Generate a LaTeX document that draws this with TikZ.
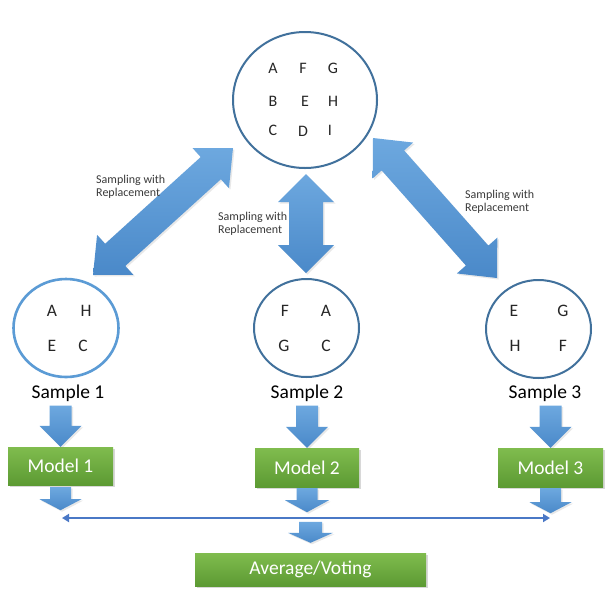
\documentclass[tikz,border=0pt]{standalone}
\usepackage{fontspec}
\setmainfont{Carlito}
\usetikzlibrary{calc,shapes.geometric,arrows.meta,shadows}
\definecolor{arrowtop}{HTML}{6DA8DF}
\definecolor{arrowbot}{HTML}{4A89C9}
\definecolor{ringdark}{HTML}{41719C}
\definecolor{ringlight}{HTML}{5B9BD5}
\definecolor{greentop}{HTML}{80BC4E}
\definecolor{greenbot}{HTML}{5C9A33}
\definecolor{linkblue}{HTML}{4A78C6}
\definecolor{txtgray}{HTML}{3A3A3A}
\tikzset{
  blockarrow/.style={top color=arrowtop, bottom color=arrowbot, draw=none,
    drop shadow={opacity=0.18, shadow xshift=1.5pt, shadow yshift=-1.5pt}},
  ring/.style={ellipse, draw=ringdark, line width=2pt, fill=white},
  modelbox/.style={rectangle, draw=none, top color=greentop, bottom color=greenbot,
    text=white, font=\fontsize{19.5}{22}\selectfont,
    drop shadow={opacity=0.3, shadow xshift=1.5pt, shadow yshift=-1.5pt}},
  samplelabel/.style={font=\fontsize{19.5}{22}\selectfont, text=black, inner sep=2pt},
  letter/.style={font=\fontsize{16}{18}\selectfont, text=black!85, inner sep=0pt},
  sletter/.style={font=\fontsize{17.5}{20}\selectfont, text=black!85, inner sep=0pt},
  swr/.style={font=\fontsize{12}{13}\selectfont, text=txtgray, align=left, anchor=west, inner sep=0pt},
  hline/.style={draw=linkblue, line width=2pt, {Triangle[length=7pt,width=8pt]}-{Triangle[length=7pt,width=8pt]}}
}
% double block arrow: #1,#2 tips; #3 shaft half width; #4 head half width; #5 head length
\newcommand\dblblock[5]{%
  \coordinate (da1) at ($(#1)!#5!(#2)$);
  \coordinate (da2) at ($(#2)!#5!(#1)$);
  \path[blockarrow] (#1) -- ($(da1)!#4!90:(#2)$) -- ($(da1)!#3!90:(#2)$)
    -- ($(da2)!#3!-90:(#1)$) -- ($(da2)!#4!-90:(#1)$) -- (#2)
    -- ($(da2)!#4!90:(#1)$) -- ($(da2)!#3!90:(#1)$)
    -- ($(da1)!#3!-90:(#2)$) -- ($(da1)!#4!-90:(#2)$) -- cycle;
}
% single block arrow: #1 flat start, #2 tip
\newcommand\sglblock[5]{%
  \coordinate (sa1) at ($(#2)!#5!(#1)$);
  \path[blockarrow] ($(#1)!#3!90:(#2)$) -- ($(sa1)!#3!-90:(#1)$) -- ($(sa1)!#4!-90:(#1)$)
    -- (#2) -- ($(sa1)!#4!90:(#1)$) -- ($(sa1)!#3!90:(#1)$) -- ($(#1)!#3!-90:(#2)$) -- cycle;
}
\begin{document}
\begin{tikzpicture}[x=1pt,y=-1pt]
\useasboundingbox (0,0) rectangle (612,595);
\fill[white] (0,0) rectangle (612,595);

% population
\node[ring, minimum width=144pt, minimum height=136pt] (top) at (305,100) {};
\node[letter] (pa) at (273,68) {A};
\node[letter] (pf) at (303,68) {F};
\node[letter] (pg) at (333,68) {G};
\node[letter] (pb) at (273,101) {B};
\node[letter] (pe) at (305,101) {E};
\node[letter] (ph) at (333,101) {H};
\node[letter] (pc) at (273,130) {C};
\node[letter] (pd) at (303,131) {D};
\node[letter] (pi) at (330,130) {I};

% samples
\node[ring, draw=ringlight, line width=2.6pt, minimum width=105pt, minimum height=98pt] (s1) at (66,328) {};
\node[ring, minimum width=105pt, minimum height=98pt] (s2) at (306.5,328) {};
\node[ring, minimum width=105pt, minimum height=98pt] (s3) at (538.5,329) {};
\node[sletter] (s1a) at (52,311) {A};
\node[sletter] (s1h) at (86,311) {H};
\node[sletter] (s1e) at (52,346) {E};
\node[sletter] (s1c) at (83,346) {C};
\node[sletter] (s2f) at (285,311) {F};
\node[sletter] (s2a) at (326,311) {A};
\node[sletter] (s2g) at (284,346) {G};
\node[sletter] (s2c) at (326,346) {C};
\node[sletter] (s3e) at (514,311) {E};
\node[sletter] (s3g) at (563,311) {G};
\node[sletter] (s3h) at (515,346) {H};
\node[sletter] (s3f) at (563,346) {F};

\node[samplelabel] (l1) at (68,393) {Sample 1};
\node[samplelabel] (l2) at (307,393) {Sample 2};
\node[samplelabel] (l3) at (545,393) {Sample 3};

% sampling arrows
\coordinate (dl1) at (233,148);
\coordinate (dl2) at (93,275);
\coordinate (dv1) at (306,174);
\coordinate (dv2) at (306,273);
\coordinate (dr1) at (373,138);
\coordinate (dr2) at (497,278);
\dblblock{dl1}{dl2}{15pt}{27pt}{30pt}
\dblblock{dv1}{dv2}{17pt}{28pt}{28pt}
\dblblock{dr1}{dr2}{15pt}{27pt}{30pt}

\node[swr] (t1) at (96,186.5) {Sampling with\\Replacement};
\node[swr] (t2) at (218,223.5) {Sampling with\\Replacement};
\node[swr] (t3) at (465,201.5) {Sampling with\\Replacement};

% models
\node[modelbox, minimum width=105pt, minimum height=38pt] (m1) at (60.5,466) {Model 1};
\node[modelbox, minimum width=104pt, minimum height=39pt] (m2) at (307,467.5) {Model 2};
\node[modelbox, minimum width=105pt, minimum height=39pt] (m3) at (550.5,467.5) {Model 3};
\node[modelbox, minimum width=231pt, minimum height=33pt] (avg) at (310.5,569.5) {Average/Voting};

% sample -> model arrows
\coordinate (a1) at ($(l1.south -| m1.north)+(0,2)$);
\coordinate (a2) at ($(l2.south -| m2.north)+(0,2)$);
\coordinate (a3) at ($(l3.south -| m3.north)+(0,2)$);
\sglblock{a1}{m1.north}{11pt}{21pt}{21pt}
\sglblock{a2}{m2.north}{11pt}{21pt}{21pt}
\sglblock{a3}{m3.north}{11pt}{21pt}{21pt}

% model -> combine arrows
\coordinate (b1) at ($(m1.south)+(0,2)$);
\coordinate (b1t) at ($(m1.south)+(0,25)$);
\coordinate (b2) at ($(m2.south)+(0,1)$);
\coordinate (b2t) at ($(m2.south)+(0,25)$);
\coordinate (b3) at ($(m3.south)+(0,1)$);
\coordinate (b3t) at ($(m3.south)+(0,26)$);
\sglblock{b1}{b1t}{10.5pt}{21pt}{11pt}
\sglblock{b2}{b2t}{10.5pt}{22pt}{12pt}
\sglblock{b3}{b3t}{10.5pt}{21pt}{11pt}

\coordinate (hl) at (62,518);
\coordinate (hr) at (550,518);
\draw[hline] (hl) -- (hr);

\coordinate (c1) at ($(avg.north)+(0,-31)$);
\coordinate (c2) at ($(avg.north)+(0,-10)$);
\sglblock{c1}{c2}{11.5pt}{22.5pt}{10pt}
\end{tikzpicture}
\end{document}
